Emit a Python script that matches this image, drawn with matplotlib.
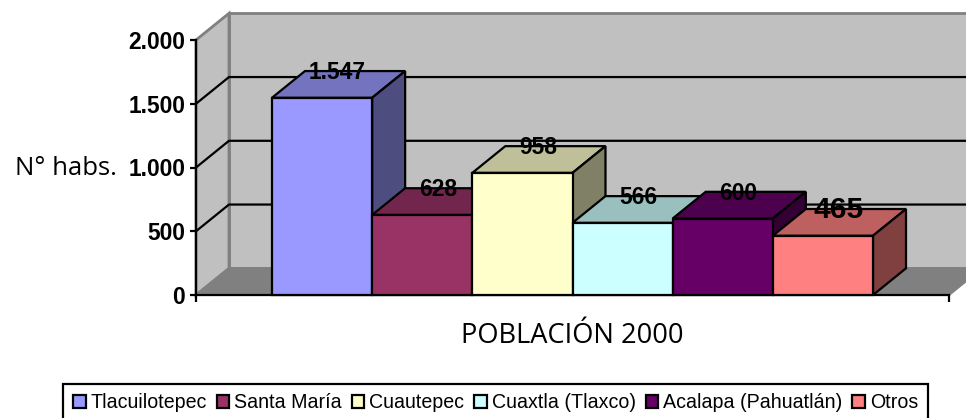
import matplotlib
matplotlib.use("Agg")
import matplotlib.pyplot as plt
from matplotlib.patches import Polygon, Patch
from matplotlib.colors import to_rgb

categories = ["Tlacuilotepec", "Santa María", "Cuautepec", "Cuaxtla (Tlaxco)", "Acalapa (Pahuatlán)", "Otros"]
values = [1547, 628, 958, 566, 600, 465]
value_labels = ["1.547", "628", "958", "566", "600", "465"]
label_sizes = [16.4, 16.4, 16.4, 16.4, 16.4, 21.6]
colors = ["#9999FF", "#993366", "#FFFFCC", "#CCFFFF", "#660066", "#FF8080"]
y_ticks = [0, 500, 1000, 1500, 2000]
y_tick_labels = ["0", "500", "1.000", "1.500", "2.000"]

W, H = 966, 418
fig = plt.figure(figsize=(W / 100, H / 100), dpi=100, facecolor="white")
ax = fig.add_axes([196 / W, 1 - 295 / H, (949 - 196) / W, 255 / H])
ax.patch.set_visible(False)

margin = 76 / 100.2
xmin, xmax = -margin, len(values) + margin
ymax = 2000
ax.set_xlim(xmin, xmax)
ax.set_ylim(0, ymax)
dx, dy = 33 / 100.2, 26.7 / (255 / 2000)
LW = 1.6
WALL = "#C0C0C0"
EDGE = "#808080"

ax.add_patch(Polygon([(xmin + dx, dy), (xmax + dx, dy), (xmax + dx, ymax + dy), (xmin + dx, ymax + dy)],
                     closed=True, fc=WALL, ec=EDGE, lw=2, clip_on=False, zorder=1))
ax.add_patch(Polygon([(xmin, 0), (xmin + dx, dy), (xmin + dx, ymax + dy), (xmin, ymax)],
                     closed=True, fc=WALL, ec=EDGE, lw=2, clip_on=False, zorder=1))
ax.add_patch(Polygon([(xmin, 0), (xmax, 0), (xmax + dx, dy), (xmin + dx, dy)],
                     closed=True, fc=EDGE, ec=EDGE, lw=1.5, clip_on=False, zorder=1.1))
for t in y_ticks[1:-1]:
    ax.plot([xmin, xmin + dx, xmax + dx], [t, t + dy, t + dy], color="black", lw=LW, clip_on=False, zorder=1.2)

for i, (v, c) in enumerate(zip(values, colors)):
    z = 3 + i
    rgb = to_rgb(c)
    top = tuple(k * 0.75 for k in rgb)
    side = tuple(k * 0.5 for k in rgb)
    ax.add_patch(Polygon([(i, v), (i + 1, v), (i + 1 + dx, v + dy), (i + dx, v + dy)],
                         closed=True, fc=top, ec="black", lw=LW, joinstyle="miter", clip_on=False, zorder=z))
    ax.add_patch(Polygon([(i + 1, 0), (i + 1 + dx, dy), (i + 1 + dx, v + dy), (i + 1, v)],
                         closed=True, fc=side, ec="black", lw=LW, joinstyle="miter", clip_on=False, zorder=z))
    ax.bar(i, v, width=1, align="edge", color=c, edgecolor="black", linewidth=LW, zorder=z + 0.1, clip_on=False)

for i, (v, s, fs) in enumerate(zip(values, value_labels, label_sizes)):
    ax.text(i + 0.49 + dx / 2, v + dy - 10, s, ha="center", va="center", fontsize=fs, fontweight="bold",
            family="Liberation Sans", color="black", zorder=20, clip_on=False)

for s in ("top", "right"):
    ax.spines[s].set_visible(False)
for s in ("left", "bottom"):
    ax.spines[s].set_linewidth(LW)
    ax.spines[s].set_zorder(2.5)

ax.set_yticks(y_ticks)
ax.set_yticklabels(y_tick_labels, fontsize=16.4, fontweight="bold", family="Liberation Sans")
ax.tick_params(axis="y", length=4.3, width=LW, pad=3.6)
ax.set_xticks([xmin, xmax])
ax.set_xticklabels(["", ""])
ax.tick_params(axis="x", length=5, width=LW)

ax.set_xlabel("POBLACIÓN 2000", fontsize=19.6, family="Open Sans")
ax.xaxis.set_label_coords(0.5, -0.16)
ax.xaxis.label.set_va("center")
ax.set_ylabel("N° habs.", fontsize=18.5, family="Open Sans", rotation=0, ha="center", va="center")
ax.yaxis.set_label_coords(-0.1726, 0.498)

handles = [Patch(facecolor=c, edgecolor="black", linewidth=LW) for c in colors]
leg = fig.legend(handles, categories, loc="center", bbox_to_anchor=(495.5 / W, 1 - 403 / H), ncol=6,
                 frameon=True, fancybox=False, edgecolor="black", framealpha=1,
                 prop={"family": "Liberation Sans", "size": 14.1},
                 handlelength=0.65, handleheight=0.65, handletextpad=0.25, columnspacing=0.5,
                 borderpad=0.5, borderaxespad=0)
leg.get_frame().set_linewidth(LW)

fig.savefig("out.png", dpi=100, facecolor="white")
